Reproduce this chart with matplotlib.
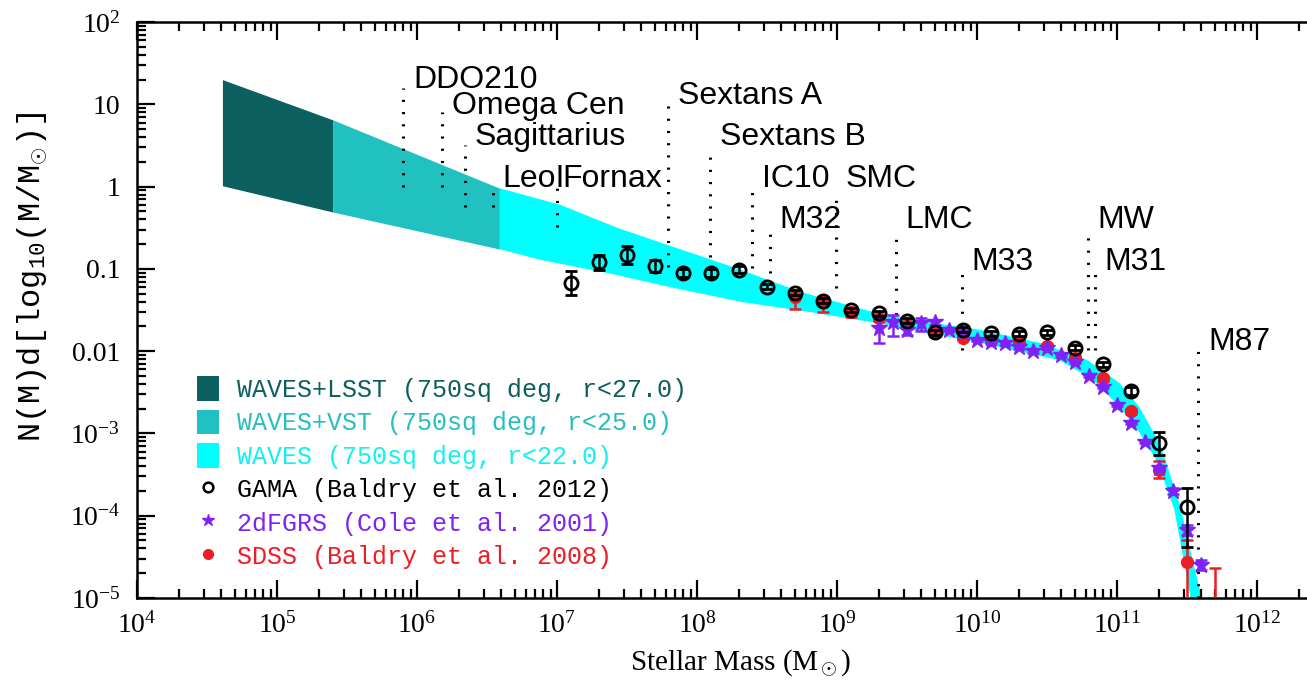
import matplotlib
matplotlib.use("Agg")
import matplotlib.pyplot as plt
import numpy as np
from matplotlib.patches import Patch
from matplotlib.lines import Line2D
from matplotlib.ticker import FixedLocator, FixedFormatter, NullFormatter, LogFormatterSciNotation

plt.rcParams['font.family'] = ['Liberation Serif', 'DejaVu Serif']
plt.rcParams['mathtext.fontset'] = 'custom'
plt.rcParams['mathtext.rm'] = 'Liberation Serif'
plt.rcParams['mathtext.it'] = 'Liberation Serif:italic'
plt.rcParams['mathtext.tt'] = 'Liberation Mono'

# --- survey reach (log10 M, log10 N) -----------------------------------
lsst_logm = [4.61, 5.40]
lsst_hi = [1.30, 0.81]
lsst_lo = [0.01, -0.31]

vst_logm = [5.40, 6.59]
vst_hi = [0.81, -0.02]
vst_lo = [-0.31, -0.76]

waves_hi_logm = [6.59, 7.02, 7.43, 7.79, 8.07, 8.31, 8.74, 9.29, 9.66, 10.02,
                 10.45, 10.79, 11.02, 11.16, 11.31, 11.45, 11.54, 11.62]
waves_hi = [-0.02, -0.22, -0.50, -0.71, -0.87, -1.01, -1.28, -1.54, -1.65, -1.74,
            -1.90, -2.11, -2.39, -2.68, -3.14, -3.87, -4.54, -5.10]
waves_lo_logm = [6.59, 6.88, 7.36, 7.83, 8.31, 8.79, 9.29, 9.66, 10.11, 10.59,
                 10.83, 11.02, 11.16, 11.29, 11.41, 11.52, 11.53]
waves_lo = [-0.76, -0.89, -1.05, -1.23, -1.40, -1.52, -1.66, -1.78, -1.93, -2.11,
            -2.35, -2.68, -2.99, -3.35, -3.93, -4.94, -5.10]

# --- GAMA (Baldry et al. 2012) -------------------------------------------
gama_logm = [7.1, 7.3, 7.5, 7.7, 7.9, 8.1, 8.3, 8.5, 8.7, 8.9, 9.1, 9.3, 9.5,
             9.7, 9.9, 10.1, 10.3, 10.5, 10.7, 10.9, 11.1, 11.3, 11.5]
gama_logn = [-1.17, -0.92, -0.83, -0.965, -1.05, -1.05, -1.01, -1.22, -1.29, -1.39,
             -1.50, -1.54, -1.63, -1.77, -1.74, -1.78, -1.79, -1.77, -1.96, -2.16,
             -2.48, -3.12, -3.89]
gama_err_lo = [0.15, 0.09, 0.11, 0.07, 0.05, 0.05, 0.04, 0.03, 0.03, 0.03, 0.03, 0.03,
               0.03, 0.03, 0.03, 0.03, 0.03, 0.03, 0.03, 0.03, 0.05, 0.14, 0.49]
gama_err_hi = [0.15, 0.09, 0.11, 0.07, 0.05, 0.05, 0.04, 0.03, 0.03, 0.03, 0.03, 0.03,
               0.03, 0.03, 0.03, 0.03, 0.03, 0.03, 0.03, 0.03, 0.05, 0.14, 0.23]

# --- 2dFGRS (Cole et al. 2001) -------------------------------------------
tdf_logm = [9.3, 9.4, 9.5, 9.6, 9.7, 9.8, 9.9, 10.0, 10.1, 10.2, 10.3, 10.4, 10.5,
            10.6, 10.7, 10.8, 10.9, 11.0, 11.1, 11.2, 11.3, 11.4, 11.5, 11.6]
tdf_logn = [-1.72, -1.65, -1.74, -1.66, -1.65, -1.74, -1.77, -1.86, -1.89, -1.90,
            -1.95, -2.00, -1.96, -2.05, -2.13, -2.30, -2.43, -2.65, -2.87, -3.10,
            -3.42, -3.70, -4.17, -4.60]
tdf_err_lo = [0.18, 0.16, 0.06, 0.09, 0.03, 0.02, 0.02, 0.02, 0.02, 0.02, 0.02, 0.02,
              0.02, 0.02, 0.02, 0.02, 0.02, 0.02, 0.02, 0.02, 0.03, 0.04, 0.06, 0.06]
tdf_err_hi = [0.12, 0.09, 0.06, 0.06, 0.03, 0.02, 0.02, 0.02, 0.02, 0.02, 0.02, 0.02,
              0.02, 0.02, 0.02, 0.02, 0.02, 0.02, 0.02, 0.02, 0.03, 0.04, 0.06, 0.06]

# --- SDSS (Baldry et al. 2008) -------------------------------------------
sdss_logm = [8.7, 8.9, 9.1, 9.3, 9.5, 9.7, 9.9, 10.1, 10.3, 10.5, 10.7, 10.9,
             11.1, 11.3, 11.5, 11.7]
sdss_logn = [-1.34, -1.40, -1.52, -1.60, -1.68, -1.78, -1.84, -1.86, -1.90, -1.94,
             -2.08, -2.33, -2.73, -3.44, -4.56, -5.60]
sdss_err_lo = [0.15, 0.13, 0.06, 0.03, 0.03, 0.03, 0.03, 0.03, 0.03, 0.03, 0.03,
               0.03, 0.03, 0.10, 2.00, 2.00]
sdss_err_hi = [0.02, 0.02, 0.02, 0.03, 0.03, 0.03, 0.03, 0.03, 0.03, 0.03, 0.03,
               0.03, 0.03, 0.10, 0.27, 0.97]

# --- local galaxies: log10 M, dotted line top/bottom, label baseline ------
gal_names = ['DDO210', 'Omega Cen', 'Sagittarius', 'LeoI', 'Fornax', 'Sextans A',
             'Sextans B', 'IC10', 'M32', 'SMC', 'LMC', 'M33', 'MW', 'M31', 'M87']
gal_logm = [5.90, 6.18, 6.34, 6.54, 7.00, 7.79, 8.09, 8.39, 8.52, 8.99, 9.42,
            9.89, 10.79, 10.84, 11.58]
gal_top = [1.20, 0.91, 0.51, -0.07, -0.02, 1.02, 0.47, -0.01, -0.56, -0.08, -0.55,
           -0.99, -0.53, -0.98, -1.99]
gal_bot = [-0.01, -0.01, -0.25, -0.25, -0.49, -0.98, -0.85, -0.99, -1.05, -1.23,
           -1.71, -1.99, -1.99, -1.99, -5.00]
gal_lab = [1.20, 0.88, 0.50, -0.01, -0.01, 1.00, 0.50, -0.01, -0.50, -0.01, -0.50,
           -1.01, -0.50, -1.01, -1.99]
# label shift to the right of its line, in pixels
gal_dx = [10, 10, 10, 10, 5, 10, 10, 10, 10, 10, 10, 10, 10, 10, 10]

# decade labels
x_decades = [4, 5, 6, 7, 8, 9, 10, 11, 12]
y_decades = [-5, -4, -3, -2, -1, 0, 1, 2]
y_ticklabels = [r'$10^{-5}$', r'$10^{-4}$', r'$10^{-3}$', '0.01', '0.1', '1', '10',
                r'$10^{2}$']

dark = '#0c6060'
mid = '#22c1c1'
cyan = '#00ffff'
purple = '#7f22f5'
red = '#ee1c24'


def pw(a):
    return 10.0 ** np.asarray(a, dtype=float)


def yerr(logn, lo, hi):
    logn, lo, hi = map(np.asarray, (logn, lo, hi))
    return [pw(logn) - pw(logn - lo), pw(logn + hi) - pw(logn)]


fig = plt.figure(figsize=(13.07, 6.84), dpi=100)
ax = fig.add_axes([137 / 1307, 86 / 684, 1190 / 1307, 576 / 684])
ax.set_xscale('log')
ax.set_yscale('log')

# shaded reach of each survey
ax.fill_between(pw(lsst_logm), pw(lsst_lo), pw(lsst_hi), color=dark, lw=0, zorder=1)
ax.fill_between(pw(vst_logm), pw(vst_lo), pw(vst_hi), color=mid, lw=0, zorder=1)
ax.fill(np.concatenate([pw(waves_hi_logm), pw(waves_lo_logm)[::-1]]),
        np.concatenate([pw(waves_hi), pw(waves_lo)[::-1]]),
        color=cyan, lw=0, zorder=1)

# dotted markers of the local galaxies
for name, m, t, b, lab, dx in zip(gal_names, gal_logm, gal_top, gal_bot, gal_lab, gal_dx):
    ax.plot([pw(m), pw(m)], [pw(b), pw(t)], color='black', lw=2.2,
            ls=(0, (0.7, 3.3)), zorder=2)
    ax.annotate(name, (pw(m), pw(lab)), xytext=(dx, 0), textcoords='offset pixels',
                ha='left', va='baseline', fontsize=23, family='Liberation Sans',
                zorder=3)

# measured mass functions
ax.errorbar(pw(sdss_logm), pw(sdss_logn), yerr=yerr(sdss_logn, sdss_err_lo, sdss_err_hi),
            fmt='o', ms=8.5, color=red, mec=red, elinewidth=1.8, capsize=4, capthick=1.8,
            zorder=4)
ax.errorbar(pw(tdf_logm), pw(tdf_logn), yerr=yerr(tdf_logn, tdf_err_lo, tdf_err_hi),
            fmt='*', ms=12, color=purple, mec=purple, elinewidth=1.8, capsize=4,
            capthick=1.8, zorder=5)
ax.errorbar(pw(gama_logm), pw(gama_logn), yerr=yerr(gama_logn, gama_err_lo, gama_err_hi),
            fmt='o', ms=9.5, mfc='none', mec='black', mew=2.0, color='black',
            elinewidth=1.8, capsize=4, capthick=1.8, zorder=6)

ax.set_xlim(1e4, pw(12.5))
ax.set_ylim(1e-5, 1e2)

ax.xaxis.set_major_locator(FixedLocator(pw(x_decades)))
ax.xaxis.set_major_formatter(LogFormatterSciNotation())
ax.yaxis.set_major_locator(FixedLocator(pw(y_decades)))
ax.yaxis.set_major_formatter(FixedFormatter(y_ticklabels))
ax.yaxis.set_minor_formatter(NullFormatter())
ax.xaxis.set_minor_formatter(NullFormatter())

ax.tick_params(which='both', direction='in', top=True, right=True, width=1.6,
               labelsize=20)
ax.tick_params(which='major', length=13)
ax.tick_params(which='minor', length=6.5)
ax.tick_params(axis='x', pad=10)
ax.tick_params(axis='y', pad=12)
for s in ax.spines.values():
    s.set_linewidth(1.8)

ax.set_xlabel(r'Stellar Mass (M$_\odot$)', fontsize=21)
ax.xaxis.set_label_coords(0.507, -0.085)
ax.set_ylabel(r'$\mathtt{N(M)d[log_{10}(M/M_{\odot})]}$', fontsize=23)
ax.yaxis.set_label_coords(-0.074, 0.557)

handles = [
    Patch(facecolor=dark, edgecolor='none'),
    Patch(facecolor=mid, edgecolor='none'),
    Patch(facecolor=cyan, edgecolor='none'),
    Line2D([], [], ls='none', marker='o', ms=7, mfc='none', mec='black', mew=1.8),
    Line2D([], [], ls='none', marker='*', ms=9, color=purple),
    Line2D([], [], ls='none', marker='o', ms=7, color=red),
]
labels = ['WAVES+LSST (750sq deg, r<27.0)',
          'WAVES+VST (750sq deg, r<25.0)',
          'WAVES (750sq deg, r<22.0)',
          'GAMA (Baldry et al. 2012)',
          '2dFGRS (Cole et al. 2001)',
          'SDSS (Baldry et al. 2008)']
ax.legend(handles, labels, loc='upper left', bbox_to_anchor=(0.0504, 0.385),
          frameon=False, borderpad=0, borderaxespad=0, handlelength=0.9,
          handleheight=1.15, handletextpad=0.7, labelspacing=0.3,
          prop={'family': 'Liberation Mono', 'size': 18},
          labelcolor=['#0d5e5e', '#25bfbf', '#14f0f0', 'black', purple, red])

fig.savefig('out.png', dpi=100)
